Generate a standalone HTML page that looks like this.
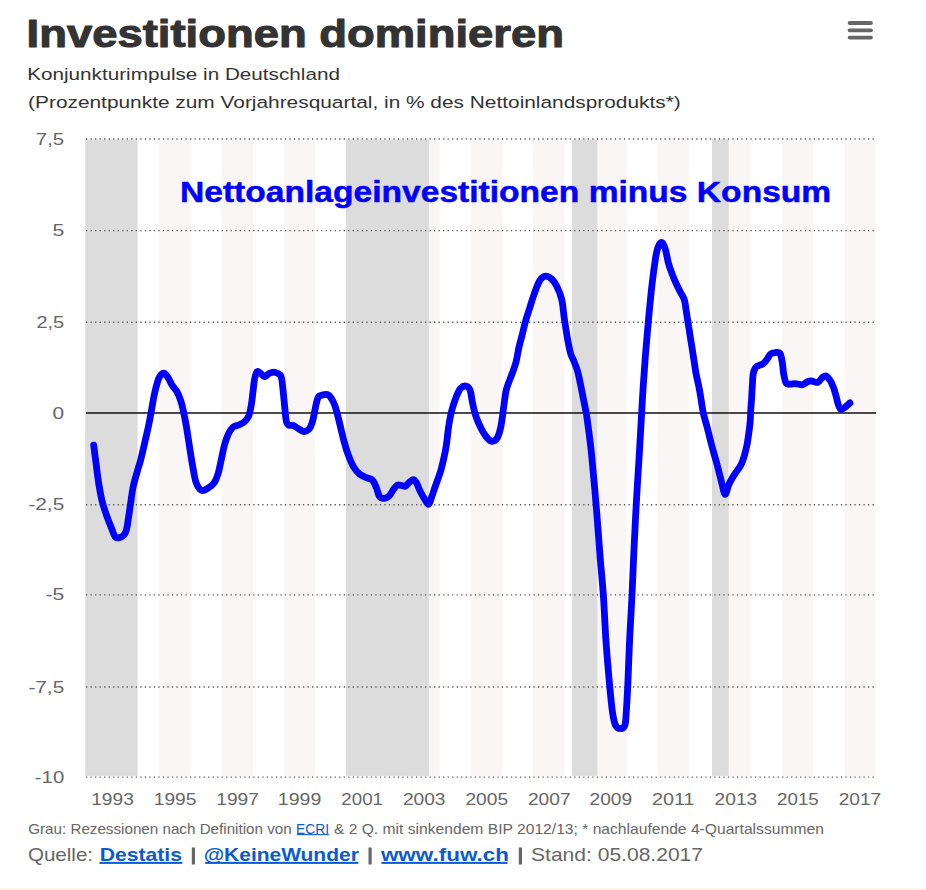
<!DOCTYPE html>
<html><head><meta charset="utf-8"><title>Investitionen dominieren</title>
<style>
html,body{margin:0;padding:0;background:#fff;}
body{width:926px;height:890px;overflow:hidden;}
svg{display:block;font-family:"Liberation Sans", sans-serif;}
</style></head><body>
<svg width="926" height="890" viewBox="0 0 926 890">
<rect x="0" y="0" width="926" height="890" fill="#ffffff"/>
<rect x="0" y="888.6" width="926" height="1.4" fill="#fff1de"/>
<rect x="159.3" y="139.6" width="31.2" height="636.3" fill="#faf6f5"/>
<rect x="221.6" y="139.6" width="31.2" height="636.3" fill="#faf6f5"/>
<rect x="283.9" y="139.6" width="31.1" height="636.3" fill="#faf6f5"/>
<rect x="346.2" y="139.6" width="31.1" height="636.3" fill="#faf6f5"/>
<rect x="408.5" y="139.6" width="31.1" height="636.3" fill="#faf6f5"/>
<rect x="470.8" y="139.6" width="31.1" height="636.3" fill="#faf6f5"/>
<rect x="533.1" y="139.6" width="31.1" height="636.3" fill="#faf6f5"/>
<rect x="595.4" y="139.6" width="31.1" height="636.3" fill="#faf6f5"/>
<rect x="657.7" y="139.6" width="31.1" height="636.3" fill="#faf6f5"/>
<rect x="720.0" y="139.6" width="31.1" height="636.3" fill="#faf6f5"/>
<rect x="782.3" y="139.6" width="31.1" height="636.3" fill="#faf6f5"/>
<rect x="844.6" y="139.6" width="31.1" height="636.3" fill="#faf6f5"/>
<rect x="85.2" y="139.6" width="52.4" height="636.3" fill="#dcdcdc"/>
<rect x="345.8" y="139.6" width="83.1" height="636.3" fill="#dcdcdc"/>
<rect x="571.9" y="139.6" width="25.4" height="636.3" fill="#dcdcdc"/>
<rect x="712.0" y="139.6" width="16.6" height="636.3" fill="#dcdcdc"/>
<line x1="86.0" x2="874.5" y1="139.0" y2="139.0" stroke="#5a5a5a" stroke-width="1.4" stroke-dasharray="1.3 3.22"/>
<line x1="86.0" x2="874.5" y1="230.6" y2="230.6" stroke="#5a5a5a" stroke-width="1.4" stroke-dasharray="1.3 3.22"/>
<line x1="86.0" x2="874.5" y1="322.3" y2="322.3" stroke="#5a5a5a" stroke-width="1.4" stroke-dasharray="1.3 3.22"/>
<line x1="86.0" x2="874.5" y1="504.7" y2="504.7" stroke="#5a5a5a" stroke-width="1.4" stroke-dasharray="1.3 3.22"/>
<line x1="86.0" x2="874.5" y1="594.9" y2="594.9" stroke="#5a5a5a" stroke-width="1.4" stroke-dasharray="1.3 3.22"/>
<line x1="86.0" x2="874.5" y1="687.0" y2="687.0" stroke="#5a5a5a" stroke-width="1.4" stroke-dasharray="1.3 3.22"/>
<line x1="86.0" x2="874.5" y1="777.1" y2="777.1" stroke="#5a5a5a" stroke-width="1.4" stroke-dasharray="1.3 3.22"/>
<line x1="86.0" x2="876.0" y1="412.96" y2="412.96" stroke="#111" stroke-width="1.5"/>
<path d="M93.7,445.1 C94.1,448.2 95.2,457.2 96.1,463.7 C96.9,470.2 97.8,477.6 98.8,483.9 C99.8,490.2 100.8,496.1 102.2,501.5 C103.6,506.9 105.3,511.8 106.9,516.3 C108.5,520.8 110.2,525.0 111.6,528.4 C112.9,531.8 113.9,534.9 115.0,536.5 C116.1,538.1 116.9,538.1 118.4,537.9 C119.9,537.7 122.5,536.6 123.8,535.2 C125.1,533.9 125.6,532.7 126.4,529.8 C127.2,526.9 127.8,521.9 128.5,517.6 C129.2,513.3 129.7,509.4 130.5,504.2 C131.3,499.0 132.0,492.2 133.2,486.6 C134.4,481.0 136.3,475.0 137.6,470.4 C138.9,465.8 139.7,463.8 140.9,459.0 C142.1,454.2 143.6,447.6 144.9,441.9 C146.2,436.2 147.6,430.4 148.8,424.6 C150.0,418.8 151.1,412.2 152.0,407.2 C152.9,402.2 153.4,398.8 154.3,394.6 C155.2,390.4 156.5,385.2 157.5,382.0 C158.5,378.8 159.2,377.1 160.3,375.6 C161.4,374.1 163.0,372.8 164.3,373.2 C165.6,373.6 166.9,375.9 168.2,377.9 C169.5,379.9 170.6,382.9 172.1,385.2 C173.6,387.5 175.4,388.9 176.9,391.5 C178.4,394.1 179.6,397.2 180.8,400.9 C182.0,404.6 182.9,408.5 183.9,413.5 C184.9,418.5 186.1,424.6 187.1,430.9 C188.1,437.2 189.2,445.1 190.2,451.3 C191.2,457.5 192.0,462.8 193.0,468.0 C194.0,473.2 194.7,478.9 196.1,482.6 C197.5,486.4 199.7,489.6 201.7,490.5 C203.7,491.4 205.9,489.4 208.0,488.1 C210.1,486.8 212.6,485.1 214.3,482.6 C216.0,480.1 217.0,477.1 218.2,473.2 C219.4,469.3 220.3,463.7 221.4,459.0 C222.5,454.3 223.3,449.1 224.5,444.9 C225.7,440.7 227.0,436.9 228.4,433.9 C229.8,430.9 231.5,428.5 233.2,427.0 C234.9,425.5 236.9,425.8 238.7,425.0 C240.5,424.2 242.6,423.4 244.2,422.0 C245.8,420.6 247.3,419.3 248.5,416.5 C249.7,413.7 250.6,409.2 251.3,405.0 C252.1,400.8 252.4,395.8 253.0,391.4 C253.6,387.0 253.9,382.2 254.6,378.9 C255.3,375.6 256.1,372.9 257.0,371.8 C257.9,370.8 258.6,371.8 259.8,372.6 C261.1,373.4 263.0,376.5 264.5,376.6 C266.0,376.8 267.5,374.2 269.0,373.5 C270.5,372.8 272.0,372.1 273.5,372.1 C275.0,372.1 276.7,372.8 278.0,373.5 C279.3,374.2 280.4,374.7 281.1,376.6 C281.9,378.6 282.1,381.7 282.5,385.2 C282.9,388.7 283.4,393.3 283.8,397.8 C284.2,402.3 284.8,408.1 285.2,412.1 C285.6,416.1 285.9,419.8 286.5,422.0 C287.1,424.2 287.7,424.6 288.8,425.2 C289.9,425.8 291.8,425.1 293.3,425.6 C294.8,426.1 296.0,427.3 297.8,428.3 C299.6,429.3 302.1,431.4 304.0,431.5 C305.9,431.6 307.6,430.6 309.0,429.2 C310.4,427.8 311.2,425.6 312.1,422.9 C313.0,420.2 313.7,416.1 314.4,413.0 C315.1,409.9 315.5,406.7 316.2,404.0 C316.9,401.3 317.4,398.4 318.4,396.9 C319.4,395.4 320.5,395.5 322.0,395.1 C323.5,394.7 325.9,394.2 327.4,394.6 C328.9,395.1 329.8,396.1 331.0,397.8 C332.2,399.5 333.6,402.2 334.6,404.9 C335.7,407.6 336.3,410.3 337.3,414.0 C338.3,417.7 339.4,422.3 340.5,427.0 C341.6,431.7 342.9,437.2 344.2,442.0 C345.5,446.8 346.9,451.5 348.5,455.6 C350.1,459.7 351.6,463.7 353.5,466.8 C355.4,469.9 357.4,472.4 359.7,474.2 C362.0,476.0 365.0,476.9 367.1,477.9 C369.2,478.9 371.1,478.6 372.6,480.3 C374.2,482.0 375.3,485.1 376.4,487.8 C377.5,490.5 378.2,494.6 379.4,496.4 C380.6,498.1 382.1,498.4 383.8,498.3 C385.5,498.2 387.7,497.4 389.3,495.8 C390.9,494.2 392.4,490.8 393.7,489.0 C395.0,487.2 396.1,485.6 397.4,485.0 C398.7,484.4 400.4,485.3 401.7,485.5 C403.0,485.7 404.2,486.7 405.4,486.2 C406.6,485.7 407.7,483.6 409.0,482.5 C410.3,481.4 411.8,479.7 413.0,479.7 C414.2,479.7 415.1,480.5 416.3,482.5 C417.5,484.5 418.9,488.7 420.3,491.5 C421.7,494.3 423.4,497.2 424.8,499.3 C426.2,501.4 427.5,504.8 428.7,504.2 C429.9,503.6 430.9,498.8 432.0,496.0 C433.1,493.2 433.6,491.3 435.0,487.2 C436.4,483.1 438.9,476.7 440.5,471.5 C442.1,466.3 443.3,460.6 444.3,456.0 C445.3,451.4 445.8,449.0 446.5,444.0 C447.2,439.0 447.8,431.9 448.7,426.2 C449.6,420.5 450.6,414.9 451.9,410.0 C453.1,405.1 454.8,400.6 456.2,397.0 C457.6,393.4 458.8,390.2 460.5,388.4 C462.2,386.6 464.9,385.8 466.5,386.2 C468.1,386.6 469.2,387.8 470.2,390.5 C471.2,393.2 471.5,398.2 472.4,402.4 C473.3,406.5 474.2,411.1 475.6,415.4 C477.0,419.7 479.2,424.7 481.0,428.3 C482.8,431.9 484.6,434.8 486.4,437.0 C488.2,439.2 490.0,441.1 491.8,441.3 C493.6,441.5 495.8,440.2 497.2,438.0 C498.6,435.8 499.6,432.1 500.5,428.3 C501.4,424.5 502.0,419.7 502.6,415.4 C503.2,411.1 503.7,406.7 504.3,402.4 C504.9,398.1 505.2,394.0 506.4,389.4 C507.6,384.8 510.0,379.5 511.6,375.0 C513.2,370.5 514.8,366.8 516.0,362.2 C517.2,357.6 517.9,352.0 518.9,347.6 C519.9,343.2 520.8,340.3 521.9,335.9 C523.0,331.5 524.3,325.7 525.5,321.3 C526.7,316.9 528.0,313.5 529.2,309.6 C530.4,305.7 531.6,301.6 532.8,298.0 C534.0,294.4 535.2,290.9 536.5,287.7 C537.8,284.5 539.2,280.9 540.8,279.0 C542.4,277.1 544.1,276.1 545.9,276.1 C547.7,276.1 549.9,277.3 551.7,279.0 C553.5,280.7 555.1,282.9 556.8,286.3 C558.5,289.7 560.5,294.5 561.7,299.4 C562.9,304.3 563.3,311.2 563.9,315.5 C564.5,319.8 564.6,320.8 565.3,325.0 C566.0,329.2 567.0,336.0 567.9,340.9 C568.8,345.8 569.8,350.7 570.8,354.1 C571.8,357.5 572.9,358.5 574.0,361.4 C575.1,364.3 576.6,367.7 577.7,371.6 C578.8,375.5 579.6,380.2 580.6,384.8 C581.6,389.4 582.5,394.5 583.5,399.4 C584.5,404.3 585.5,408.9 586.4,414.0 C587.2,419.1 587.8,423.3 588.6,430.0 C589.5,436.7 590.3,441.8 591.5,454.0 C592.7,466.2 594.6,487.0 596.0,503.5 C597.4,520.0 598.5,537.2 599.8,552.8 C601.0,568.4 602.5,582.8 603.5,597.3 C604.5,611.8 604.9,625.4 605.9,640.0 C606.9,654.6 608.5,672.8 609.6,685.0 C610.7,697.2 611.6,706.2 612.6,713.0 C613.6,719.8 614.3,722.9 615.6,725.5 C616.9,728.1 619.0,728.6 620.5,728.6 C622.0,728.6 623.8,728.1 624.8,725.5 C625.8,722.9 625.7,719.8 626.2,713.0 C626.7,706.2 627.2,697.2 627.8,685.0 C628.4,672.8 628.9,654.7 629.6,640.0 C630.3,625.3 631.2,611.5 631.9,597.0 C632.6,582.5 633.1,568.6 633.8,553.0 C634.5,537.4 635.4,520.0 636.3,503.5 C637.2,487.0 638.4,469.2 639.3,454.0 C640.2,438.8 641.1,423.0 641.7,412.0 C642.3,401.0 642.5,397.4 643.1,388.0 C643.7,378.6 644.5,367.1 645.4,355.7 C646.3,344.3 647.4,331.8 648.5,319.8 C649.6,307.8 650.9,294.4 652.1,283.9 C653.3,273.4 654.7,263.3 655.7,257.0 C656.8,250.7 657.4,248.6 658.4,246.2 C659.4,243.8 660.8,241.9 662.0,242.5 C663.2,243.1 664.5,246.5 665.5,249.8 C666.5,253.1 667.2,258.4 668.2,262.3 C669.2,266.2 670.4,269.5 671.8,273.1 C673.1,276.7 674.8,280.6 676.3,283.9 C677.8,287.2 679.4,290.2 680.8,292.9 C682.1,295.6 683.5,297.0 684.4,300.0 C685.3,303.0 685.6,307.0 686.2,310.8 C686.8,314.6 687.4,318.7 688.1,323.0 C688.8,327.3 689.6,332.5 690.2,336.5 C690.8,340.5 691.3,343.0 691.9,347.0 C692.5,351.0 693.3,356.0 694.0,360.5 C694.7,365.0 695.3,369.4 696.1,373.9 C696.9,378.4 698.1,382.9 699.0,387.4 C699.9,391.9 700.6,396.6 701.3,400.9 C702.0,405.2 702.3,408.5 703.3,413.0 C704.3,417.5 706.1,423.3 707.3,427.8 C708.5,432.3 709.3,436.0 710.3,440.0 C711.3,444.0 712.5,448.3 713.5,452.0 C714.5,455.7 715.5,458.7 716.5,462.4 C717.5,466.1 718.6,470.4 719.5,474.0 C720.4,477.6 721.1,480.6 722.0,484.0 C722.9,487.4 724.0,494.2 725.1,494.4 C726.2,494.6 727.4,488.0 728.5,485.4 C729.6,482.8 730.6,480.9 731.9,478.7 C733.2,476.4 734.8,474.1 736.3,471.9 C737.8,469.6 739.5,467.8 740.8,465.2 C742.1,462.6 743.2,459.6 744.2,456.2 C745.2,452.8 746.2,448.6 747.0,444.9 C747.8,441.1 748.2,437.4 748.7,433.7 C749.2,430.0 749.8,426.2 750.1,422.5 C750.4,418.8 750.5,414.9 750.7,411.2 C750.9,407.4 751.2,403.9 751.5,400.0 C751.8,396.1 751.9,392.2 752.2,388.0 C752.5,383.8 752.6,378.0 753.1,374.6 C753.6,371.2 754.5,369.2 755.5,367.6 C756.5,366.0 758.1,365.9 759.4,365.2 C760.7,364.5 762.0,364.7 763.3,363.6 C764.6,362.6 766.1,360.5 767.3,358.9 C768.5,357.3 769.1,355.2 770.4,354.2 C771.7,353.1 773.6,352.7 775.2,352.6 C776.8,352.5 778.7,351.8 779.9,353.4 C781.1,355.0 781.6,358.5 782.2,362.0 C782.9,365.5 783.1,371.1 783.8,374.6 C784.5,378.2 785.2,381.7 786.2,383.3 C787.2,384.9 788.7,384.1 790.1,384.1 C791.5,384.2 793.5,383.6 794.8,383.6 C796.0,383.6 796.3,383.8 797.6,384.0 C798.9,384.2 800.9,385.2 802.5,384.8 C804.1,384.4 805.9,382.6 807.3,381.9 C808.7,381.2 809.4,380.7 811.1,380.8 C812.8,380.9 815.7,382.9 817.6,382.4 C819.5,381.8 821.0,378.6 822.4,377.5 C823.8,376.4 824.9,375.4 826.2,375.9 C827.5,376.3 828.8,378.4 830.0,380.2 C831.2,382.0 832.2,384.2 833.2,386.7 C834.2,389.2 835.1,392.5 835.9,395.4 C836.7,398.3 837.3,401.7 838.1,404.0 C838.9,406.3 839.6,408.9 840.8,409.4 C842.0,409.9 843.6,408.3 845.1,407.2 C846.6,406.1 849.2,403.6 850.0,402.9" fill="none" stroke="#0000ff" stroke-width="6.8" stroke-linecap="round" stroke-linejoin="round"/>
<text x="26.60" y="46.70" font-size="39.5" font-weight="bold" fill="#333" stroke="#333" stroke-width="1.1" stroke-linejoin="round" textLength="537.4" lengthAdjust="spacingAndGlyphs">Investitionen dominieren</text>
<text x="27.20" y="80.00" font-size="17.1" fill="#333" textLength="312.7" lengthAdjust="spacingAndGlyphs">Konjunkturimpulse in Deutschland</text>
<text x="28.10" y="108.40" font-size="17.1" fill="#333" textLength="652.7" lengthAdjust="spacingAndGlyphs">(Prozentpunkte zum Vorjahresquartal, in % des Nettoinlandsprodukts*)</text>
<text x="180.00" y="201.90" font-size="30.3" font-weight="bold" fill="#0000ff" stroke="#0000ff" stroke-width="0.5" stroke-linejoin="round" textLength="651.2" lengthAdjust="spacingAndGlyphs">Nettoanlageinvestitionen minus Konsum</text>
<text x="35.80" y="144.50" font-size="17.4" fill="#666" textLength="28.4" lengthAdjust="spacingAndGlyphs">7,5</text>
<text x="52.40" y="236.10" font-size="17.4" fill="#666" textLength="11.8" lengthAdjust="spacingAndGlyphs">5</text>
<text x="36.40" y="327.80" font-size="17.4" fill="#666" textLength="27.8" lengthAdjust="spacingAndGlyphs">2,5</text>
<text x="52.60" y="418.50" font-size="17.4" fill="#666" textLength="11.6" lengthAdjust="spacingAndGlyphs">0</text>
<text x="28.40" y="510.20" font-size="17.4" fill="#666" textLength="35.8" lengthAdjust="spacingAndGlyphs">-2,5</text>
<text x="45.40" y="600.40" font-size="17.4" fill="#666" textLength="18.8" lengthAdjust="spacingAndGlyphs">-5</text>
<text x="28.40" y="692.50" font-size="17.4" fill="#666" textLength="35.8" lengthAdjust="spacingAndGlyphs">-7,5</text>
<text x="34.80" y="782.60" font-size="17.4" fill="#666" textLength="29.4" lengthAdjust="spacingAndGlyphs">-10</text>
<text x="91.20" y="805.30" font-size="17.4" fill="#666" textLength="42.6" lengthAdjust="spacingAndGlyphs">1993</text>
<text x="153.74" y="805.30" font-size="17.4" fill="#666" textLength="42.6" lengthAdjust="spacingAndGlyphs">1995</text>
<text x="216.28" y="805.30" font-size="17.4" fill="#666" textLength="42.6" lengthAdjust="spacingAndGlyphs">1997</text>
<text x="277.82" y="805.30" font-size="17.4" fill="#666" textLength="43.6" lengthAdjust="spacingAndGlyphs">1999</text>
<text x="341.36" y="805.30" font-size="17.4" fill="#666" textLength="41.6" lengthAdjust="spacingAndGlyphs">2001</text>
<text x="402.90" y="805.30" font-size="17.4" fill="#666" textLength="42.6" lengthAdjust="spacingAndGlyphs">2003</text>
<text x="465.44" y="805.30" font-size="17.4" fill="#666" textLength="42.6" lengthAdjust="spacingAndGlyphs">2005</text>
<text x="527.98" y="805.30" font-size="17.4" fill="#666" textLength="42.6" lengthAdjust="spacingAndGlyphs">2007</text>
<text x="589.52" y="805.30" font-size="17.4" fill="#666" textLength="42.6" lengthAdjust="spacingAndGlyphs">2009</text>
<text x="652.06" y="805.30" font-size="17.4" fill="#666" textLength="42.6" lengthAdjust="spacingAndGlyphs">2011</text>
<text x="714.60" y="805.30" font-size="17.4" fill="#666" textLength="42.6" lengthAdjust="spacingAndGlyphs">2013</text>
<text x="777.14" y="805.30" font-size="17.4" fill="#666" textLength="41.6" lengthAdjust="spacingAndGlyphs">2015</text>
<text x="838.68" y="805.30" font-size="17.4" fill="#666" textLength="42.6" lengthAdjust="spacingAndGlyphs">2017</text>
<text x="28.20" y="833.60" font-size="14.1" fill="#666" textLength="263.5" lengthAdjust="spacingAndGlyphs">Grau: Rezessionen nach Definition von</text>
<text x="296.00" y="833.60" font-size="14.1" fill="#0a5ad2" textLength="33.0" lengthAdjust="spacingAndGlyphs">ECRI</text>
<rect x="296.8" y="834.1" width="32.1" height="1.1" fill="#0a5ad2"/>
<text x="333.90" y="833.60" font-size="14.1" fill="#666" textLength="490.0" lengthAdjust="spacingAndGlyphs">&amp; 2 Q. mit sinkendem BIP 2012/13; * nachlaufende 4-Quartalssummen</text>
<text x="27.90" y="860.70" font-size="18.2" fill="#666" textLength="65.2" lengthAdjust="spacingAndGlyphs">Quelle:</text>
<text x="99.80" y="860.70" font-size="18.2" font-weight="bold" fill="#0a5ad2" textLength="82.2" lengthAdjust="spacingAndGlyphs">Destatis</text>
<rect x="99.5" y="861.9" width="82.8" height="2" fill="#0a5ad2"/>
<text x="203.70" y="860.70" font-size="18.2" font-weight="bold" fill="#0a5ad2" textLength="155.1" lengthAdjust="spacingAndGlyphs">@KeineWunder</text>
<rect x="205.2" y="861.9" width="153.1" height="2" fill="#0a5ad2"/>
<text x="380.90" y="860.70" font-size="18.2" font-weight="bold" fill="#0a5ad2" textLength="128.1" lengthAdjust="spacingAndGlyphs">www.fuw.ch</text>
<rect x="381.4" y="861.9" width="126.1" height="2" fill="#0a5ad2"/>
<text x="531.00" y="860.70" font-size="18.2" fill="#666" textLength="172.0" lengthAdjust="spacingAndGlyphs">Stand: 05.08.2017</text>
<rect x="191.8" y="847.5" width="3.2" height="17" fill="#666"/>
<rect x="368.5" y="847.5" width="3.2" height="17" fill="#666"/>
<rect x="518.8" y="847.5" width="3.2" height="17" fill="#666"/>
<line x1="849.6" x2="871" y1="23.0" y2="23.0" stroke="#666" stroke-width="3.8" stroke-linecap="round"/>
<line x1="849.6" x2="871" y1="30.3" y2="30.3" stroke="#666" stroke-width="3.8" stroke-linecap="round"/>
<line x1="849.6" x2="871" y1="37.6" y2="37.6" stroke="#666" stroke-width="3.8" stroke-linecap="round"/>
</svg>
</body></html>
